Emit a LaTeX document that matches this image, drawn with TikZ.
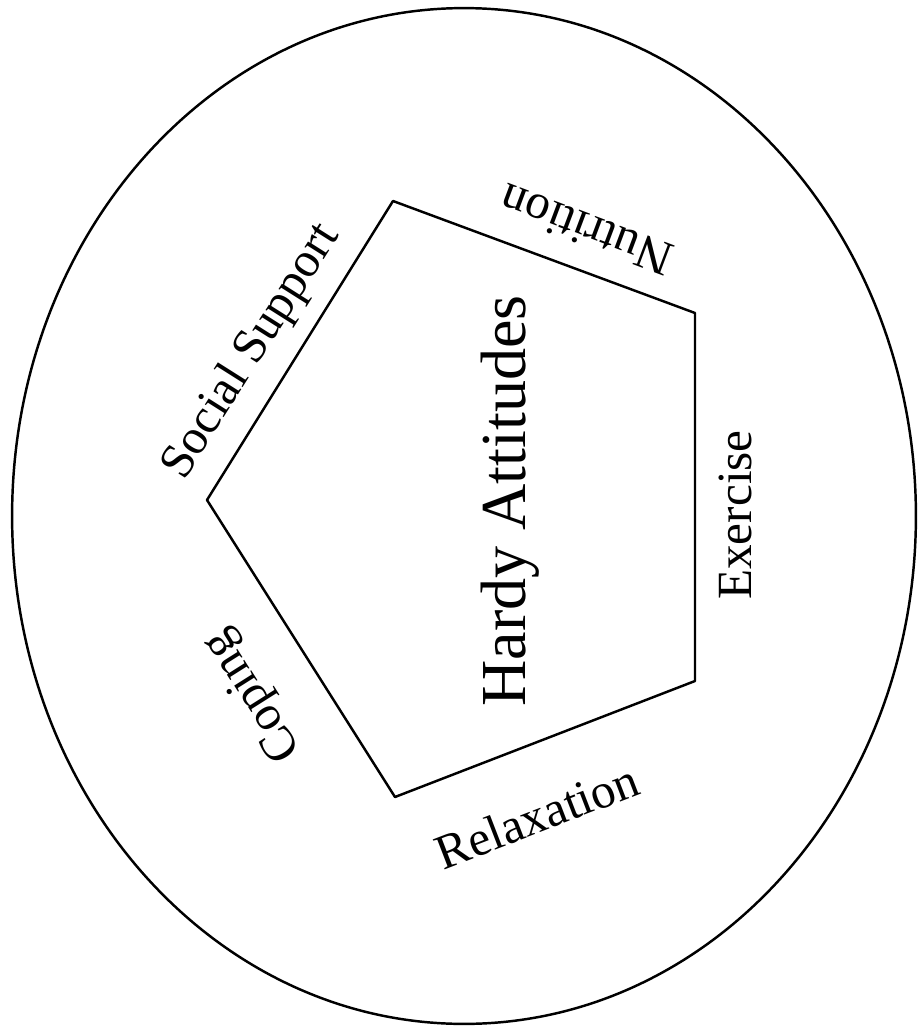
\documentclass[tikz,border=0pt]{standalone}
\usepackage{fontspec}
\setmainfont{Liberation Serif}
\usetikzlibrary{positioning}

\begin{document}
\begin{tikzpicture}[x=0.02cm, y=-0.02cm, line join=round, line cap=round,
  lbl/.style={font=\fontsize{28}{34}\selectfont, inner sep=0pt},
  big/.style={font=\fontsize{36.5}{44}\selectfont, inner sep=0pt}]
\useasboundingbox (0,0) rectangle (918,1031);
\coordinate (O) at (464,516);
\coordinate (T) at (393,201);
\coordinate (R) at (695,313);
\coordinate (S) at (695,681);
\coordinate (B) at (395,797);
\coordinate (L) at (207,500);
\draw[line width=1.4pt] (O) ellipse [x radius=9.04cm, y radius=10.16cm];
\draw[line width=1.4pt] (T)--(R)--(S)--(B)--(L)--cycle;
\node[big, rotate=90] (hardy) at (510,501) {Hardy Attitudes};
\node[lbl, rotate=57.7] (social) at (252,352) {Social Support};
\node[lbl, rotate=159.4] (nutr) at (586,230) {Nutrition};
\node[lbl, rotate=90] (exer) at (735,515) {Exercise};
\node[lbl, rotate=21.1] (relax) at (537,816) {Relaxation};
\node[lbl, rotate=122.3] (coping) at (254,695) {Coping};
\end{tikzpicture}
\end{document}
